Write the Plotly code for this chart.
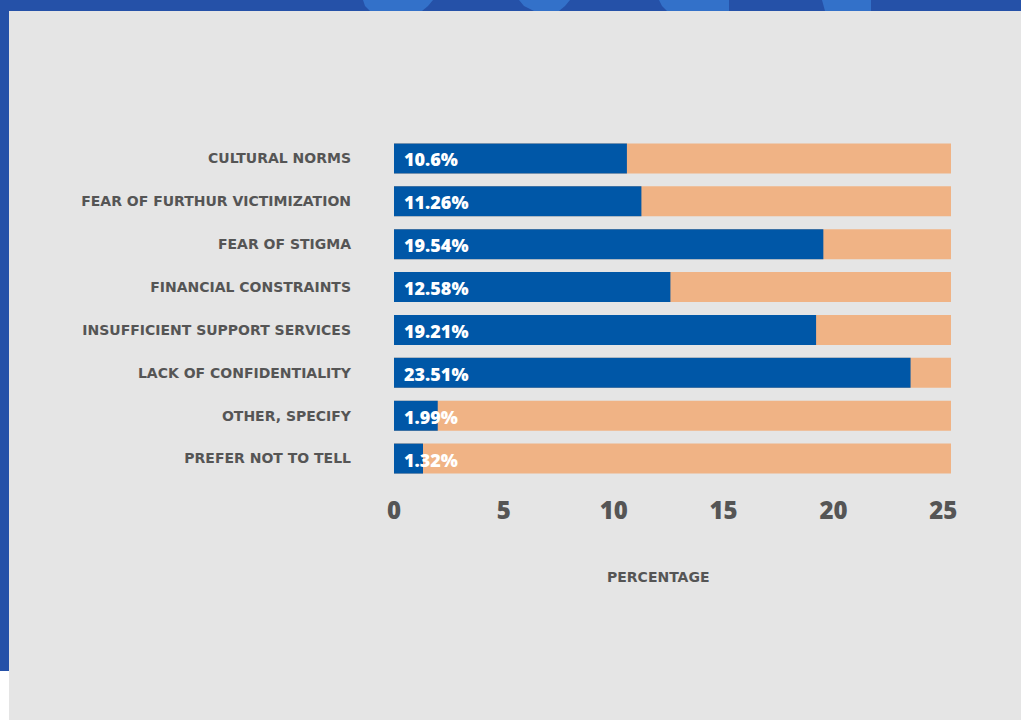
import plotly.graph_objects as go

# Survey data: reasons for not reporting, share of respondents (%)
categories = [
    "CULTURAL NORMS",
    "FEAR OF FURTHUR VICTIMIZATION",
    "FEAR OF STIGMA",
    "FINANCIAL CONSTRAINTS",
    "INSUFFICIENT SUPPORT SERVICES",
    "LACK OF CONFIDENTIALITY",
    "OTHER, SPECIFY",
    "PREFER NOT TO TELL",
]
percentages = [10.6, 11.26, 19.54, 12.58, 19.21, 23.51, 1.99, 1.32]
value_labels = ["10.6%", "11.26%", "19.54%", "12.58%", "19.21%", "23.51%", "1.99%", "1.32%"]
x_ticks = [0, 5, 10, 15, 20, 25]
track_max = 25.35  # length of the background track behind each bar

W, H = 1021, 720
L, R, T, B = 394, 70, 137, 240
PW, PH = W - L - R, H - T - B

FRAME_BLUE = "#2551a8"
ACCENT_BLUE = "#3371c9"
PANEL = "#e5e5e5"
BAR_BLUE = "#0057a7"
PEACH = "#f0b385"
TEXT = "#555555"
FONT = "Open Sans"
LABEL_FONT = "DejaVu Sans"


def px(x):
    return (x - L) / PW


def py(y):
    return (T + PH - y) / PH


def poly(points, color):
    d = "M " + " L ".join(f"{px(a):.5f},{py(b):.5f}" for a, b in points) + " Z"
    return dict(type="path", xref="paper", yref="paper", path=d,
                fillcolor=color, line=dict(width=0), layer="below")


def rect(x0, y0, x1, y1, color):
    return dict(type="rect", xref="paper", yref="paper",
                x0=px(x0), x1=px(x1), y0=py(y1), y1=py(y0),
                fillcolor=color, line=dict(width=0), layer="below")


shapes = [
    # decorative pattern peeking out of the top frame
    poly([(363, 0), (433, 0), (428, 6), (422, 11), (370, 11), (365, 6)], ACCENT_BLUE),
    poly([(519, 0), (570, 0), (565, 6), (559, 11), (534, 11), (524, 6)], ACCENT_BLUE),
    poly([(659, 0), (729, 0), (729, 11), (667, 11), (662, 6)], ACCENT_BLUE),
    poly([(822, 0), (871, 0), (871, 11), (825, 11)], ACCENT_BLUE),
    # light panel inside the frame
    rect(9, 11, W + 5, H + 5, PANEL),
    rect(-5, 671, 9, H + 5, "#ffffff"),
]

fig = go.Figure()

fig.add_trace(go.Bar(
    y=categories, x=[track_max] * len(categories), orientation="h",
    marker=dict(color=PEACH, line=dict(width=0)), hoverinfo="skip",
))
fig.add_trace(go.Bar(
    y=categories, x=percentages, orientation="h",
    marker=dict(color=BAR_BLUE, line=dict(width=0)),
))

annotations = [
    dict(x=0, y=cat, xref="x", yref="y", text=lab, showarrow=False,
         xanchor="left", yanchor="middle", xshift=8, yshift=-1,
         font=dict(family=FONT, size=18, color="#ffffff", weight=800))
    for cat, lab in zip(categories, value_labels)
]
annotations.append(dict(
    x=px(658), y=py(577), xref="paper", yref="paper", text="PERCENTAGE",
    showarrow=False, xanchor="center", yanchor="middle",
    font=dict(family=LABEL_FONT, size=14, color=TEXT, weight=700),
))

fig.update_layout(
    width=W, height=H,
    margin=dict(l=L, r=R, t=T, b=B, pad=0),
    paper_bgcolor=FRAME_BLUE,
    plot_bgcolor="rgba(0,0,0,0)",
    barmode="overlay",
    bargap=0.30,
    showlegend=False,
    shapes=shapes,
    annotations=annotations,
    xaxis=dict(
        range=[0, track_max], tickvals=x_ticks, ticktext=[str(t) for t in x_ticks],
        showgrid=False, zeroline=False, showline=False, ticks="",
        ticklabelstandoff=14,
        tickfont=dict(family=FONT, size=24, color=TEXT, weight=800),
    ),
    yaxis=dict(
        range=[len(categories) - 0.5, -0.5],
        showgrid=False, zeroline=False, showline=False, ticks="",
        ticklabelstandoff=42,
        tickfont=dict(family=LABEL_FONT, size=14, color=TEXT, weight=700),
    ),
)

fig.write_html("out.html")
